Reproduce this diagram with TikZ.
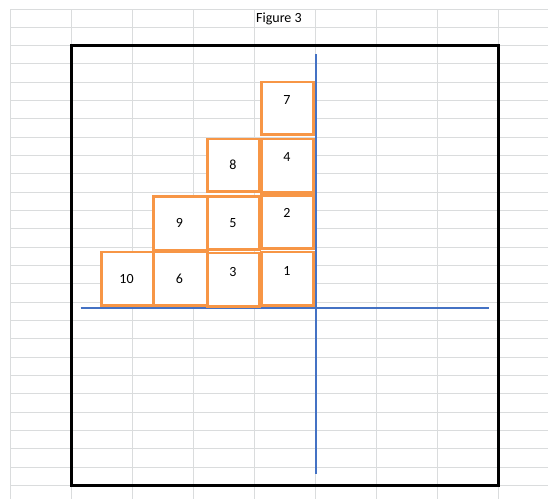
\documentclass[tikz,border=0pt]{standalone}
\usepackage{fontspec}
\setmainfont{Carlito}
\definecolor{gridc}{RGB}{218,220,221}
\definecolor{sqc}{RGB}{247,150,70}
\definecolor{axc}{RGB}{68,114,196}
\tikzset{
  gridline/.style={draw=gridc, line width=1pt},
  frame/.style={draw=black, line width=2.6pt},
  axis/.style={draw=axc, line width=1.3pt},
  sqbox/.style={draw=sqc, line width=2.7pt, fill=white},
  num/.style={inner sep=0pt, font=\fontsize{14}{16}\selectfont},
}
\begin{document}
\begin{tikzpicture}[x=1pt,y=-1pt]
\useasboundingbox[fill=white] (0,0) rectangle (548,499);
% spreadsheet grid
\foreach \k in {0,...,8} {
  \draw[gridline] ({10.3+61*\k},9) -- ({10.3+61*\k},499);
}
\foreach \k in {0,...,26} {
  \draw[gridline] (10,{9+18.33*\k}) -- (548,{9+18.33*\k});
}
% title
\node[num, anchor=base west] (title) at (256,22.5) {Figure 3};
% frame
\draw[frame] (71.3,45.7) rectangle (498.3,485.6);
% axes
\coordinate (vtop) at (316,54);
\coordinate (vbot) at (316,474);
\coordinate (hleft) at (80.5,308.2);
\coordinate (hright) at (489,308.2);
\draw[axis] (vtop) -- (vbot);
\draw[axis, line width=1.6pt] (hleft) -- (hright);
% squares
\draw[sqbox] (101.3,252) rectangle (153.5,305.4);
\draw[sqbox] (153.5,252) rectangle (207.5,305.4);
\draw[sqbox] (153.5,196.3) rectangle (207.5,250.4);
\draw[sqbox] (207.8,139) rectangle (259.2,191.2);
\draw[sqbox] (207.8,196.3) rectangle (259.2,249.7);
\draw[sqbox] (207.8,253) rectangle (259.2,306.6);
\draw[sqbox] (261.3,82) rectangle (313.8,134.5);
\draw[sqbox] (261.3,139) rectangle (313.8,192.2);
\draw[sqbox] (261.3,195.3) rectangle (313.8,248.2);
\draw[sqbox] (261.3,252) rectangle (313.8,305.4);
% numbers
\node[num] (n7) at (287,100) {7};
\node[num] (n4) at (287,157) {4};
\node[num] (n8) at (233,165) {8};
\node[num] (n2) at (287,213) {2};
\node[num] (n5) at (233,223) {5};
\node[num] (n9) at (179.5,223) {9};
\node[num] (n1) at (287,271) {1};
\node[num] (n3) at (233,272) {3};
\node[num] (n6) at (179.5,278.5) {6};
\node[num] (n10) at (126.5,278.5) {10};
\end{tikzpicture}
\end{document}
